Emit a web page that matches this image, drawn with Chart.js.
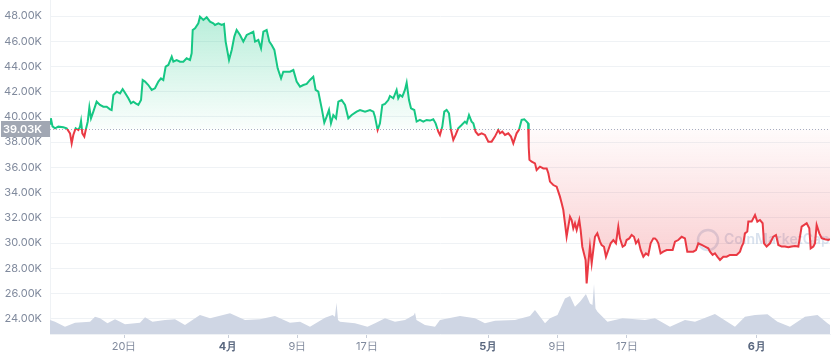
<!DOCTYPE html>
<html>
<head>
<meta charset="utf-8">
<script src="https://cdn.jsdelivr.net/npm/chart.js@4/dist/chart.umd.min.js"></script>
<style>
  html, body { margin: 0; padding: 0; background: #fff; }
  #wrap { position: relative; width: 831px; height: 358px; }
</style>
</head>
<body>
<div id="wrap"><canvas id="priceChart"></canvas></div>
<script>
// BTC price, Mar 11 - Jun 10 (days counted from Mar 1 00:00), values in K USD

const priceDays = [
  10.46, 10.56, 10.75, 11.04, 11.42, 12.00, 12.38, 12.77, 12.96, 13.15, 13.42, 13.73, 13.92, 14.04, 14.19, 14.42,
  14.58, 14.81, 15.00, 15.19, 15.46, 15.84, 16.23, 16.61, 17.00, 17.38, 17.57, 17.77, 18.15, 18.54, 18.84, 19.11,
  19.50, 19.80, 20.07, 20.34, 20.65, 20.96, 21.15, 21.42, 21.80, 22.19, 22.57, 22.96, 23.26, 23.53, 23.80, 24.11,
  24.50, 24.69, 25.07, 25.46, 25.84, 26.22, 26.61, 26.80, 26.92, 27.19, 27.57, 27.76, 28.15, 28.53, 28.92, 29.30,
  29.49, 29.88, 30.26, 30.53, 30.72, 31.11, 31.42, 31.72, 31.99, 32.38, 32.76, 33.15, 33.53, 33.91, 34.11, 34.49,
  34.80, 35.07, 35.45, 35.76, 36.03, 36.34, 36.72, 37.11, 37.37, 37.76, 38.14, 38.53, 38.91, 39.30, 39.68, 40.07,
  40.45, 40.83, 41.10, 41.41, 41.80, 42.10, 42.37, 42.64, 42.87, 43.14, 43.45, 43.72, 44.10, 44.49, 44.87, 45.26,
  45.83, 46.22, 46.80, 47.37, 47.76, 47.94, 48.25, 48.52, 48.79, 49.10, 49.48, 49.67, 50.06, 50.44, 50.63, 50.83,
  51.10, 51.40, 51.60, 51.87, 52.10, 52.48, 52.75, 53.13, 53.52, 53.90, 54.29, 54.67, 54.94, 55.25, 55.44, 55.71,
  55.94, 56.21, 56.48, 56.71, 56.98, 57.25, 57.55, 57.94, 58.32, 58.52, 58.79, 59.09, 59.29, 59.55, 59.86, 60.25,
  60.63, 61.02, 61.40, 61.78, 62.17, 62.36, 62.63, 62.94, 63.32, 63.63, 63.90, 64.28, 64.55, 64.86, 65.17, 65.44,
  65.60, 65.68, 65.76, 66.02, 66.40, 66.59, 66.98, 67.36, 67.75, 67.94, 68.13, 68.51, 68.90, 69.28, 69.48, 69.67,
  69.86, 70.05, 70.24, 70.44, 70.63, 70.82, 71.01, 71.21, 71.51, 71.67, 71.86, 72.05, 72.24, 72.36, 72.55, 72.74,
  72.94, 73.13, 73.32, 73.59, 73.90, 74.09, 74.36, 74.59, 74.86, 75.13, 75.44, 75.74, 76.01, 76.20, 76.51, 76.78,
  76.97, 77.28, 77.55, 77.82, 78.05, 78.32, 78.59, 78.90, 79.20, 79.47, 79.74, 80.05, 80.24, 80.43, 80.63, 80.89,
  81.20, 81.59, 81.97, 82.28, 82.55, 82.93, 83.32, 83.70, 83.97, 84.28, 84.66, 84.97, 85.24, 85.63, 86.01, 86.39,
  86.59, 86.89, 87.16, 87.43, 87.74, 88.12, 88.51, 88.89, 89.28, 89.66, 90.05, 90.24, 90.43, 90.62, 90.89, 91.01,
  91.39, 91.78, 92.05, 92.35, 92.66, 92.82, 93.12, 93.51, 93.89, 94.20, 94.47, 94.85, 95.24, 95.62, 96.01, 96.39,
  96.78, 97.16, 97.74, 98.04, 98.20, 98.51, 98.70, 98.89, 99.20, 99.47, 99.85, 100.24, 100.43
];

const priceK = [
  39.45, 39.90, 39.25, 39.10, 39.23, 39.18, 39.10, 38.70, 37.91, 38.57, 39.10, 38.96, 39.23, 39.68, 38.70, 38.44,
  38.96, 39.62, 40.76, 39.89, 40.42, 41.21, 40.95, 40.81, 40.81, 40.60, 40.55, 41.74, 42.00, 41.87, 42.21, 41.92,
  41.48, 41.08, 41.21, 41.08, 40.95, 41.34, 42.93, 42.80, 42.53, 42.14, 42.27, 42.80, 43.06, 42.93, 43.99, 44.12,
  44.78, 44.38, 44.51, 44.38, 44.38, 44.65, 44.51, 45.04, 46.89, 47.03, 47.42, 47.95, 47.69, 47.90, 47.55, 47.42,
  47.29, 47.42, 47.29, 47.37, 45.97, 44.52, 45.31, 46.37, 46.89, 46.50, 45.97, 46.50, 46.63, 46.76, 45.97, 46.10,
  45.44, 46.76, 46.89, 45.97, 45.70, 45.31, 43.85, 43.06, 43.59, 43.59, 43.59, 43.72, 42.80, 42.40, 42.53, 42.61,
  42.93, 43.19, 42.14, 42.00, 40.68, 39.55, 40.02, 40.55, 39.49, 40.15, 39.89, 41.21, 41.34, 40.95, 39.89, 40.15,
  40.42, 40.55, 40.42, 40.55, 40.42, 40.02, 38.97, 39.49, 40.95, 41.03, 41.34, 41.66, 41.48, 42.14, 41.48, 41.74,
  41.61, 42.14, 42.72, 41.34, 40.68, 40.55, 39.63, 39.76, 39.63, 39.76, 39.71, 39.81, 39.49, 38.83, 38.57, 39.23,
  40.42, 40.55, 40.29, 38.97, 38.17, 38.57, 39.10, 39.36, 39.63, 39.49, 40.15, 39.63, 39.49, 38.83, 38.57, 38.70,
  38.57, 38.04, 38.04, 38.44, 38.97, 38.70, 38.83, 38.57, 38.70, 38.44, 37.91, 38.70, 38.97, 39.76, 39.81, 39.63,
  39.50, 37.60, 36.60, 36.45, 36.32, 35.79, 36.06, 35.92, 35.92, 35.53, 34.87, 34.60, 34.47, 33.68, 33.15, 32.62,
  31.56, 30.50, 31.30, 32.09, 31.83, 31.17, 31.56, 31.03, 31.83, 31.03, 29.71, 29.18, 28.65, 26.80, 28.39, 29.71,
  28.39, 29.45, 30.50, 30.77, 30.11, 29.84, 29.71, 28.92, 29.45, 29.98, 30.24, 29.98, 31.30, 30.37, 29.71, 29.84,
  30.24, 30.37, 30.64, 30.50, 29.98, 30.24, 29.45, 28.92, 29.18, 29.05, 29.98, 30.37, 30.37, 30.24, 29.98, 29.18,
  29.32, 29.45, 29.45, 29.45, 30.11, 30.24, 30.50, 30.37, 29.32, 29.32, 29.32, 29.45, 29.98, 29.85, 29.72, 29.58,
  29.32, 29.06, 29.19, 28.92, 28.66, 28.92, 28.92, 29.06, 29.06, 29.06, 29.32, 29.72, 29.98, 30.77, 30.91, 31.70,
  31.70, 32.23, 31.70, 31.83, 31.57, 29.98, 29.72, 29.98, 30.51, 30.64, 29.85, 29.72, 29.72, 29.66, 29.72, 29.77,
  29.72, 31.30, 31.57, 31.17, 29.58, 29.72, 29.98, 31.43, 30.77, 30.38, 30.30, 30.24, 30.30
];

// 24h volume, billions USD
const volumeDays = [
  10.46, 11.04, 12.19, 13.35, 15.08, 15.65, 16.23, 17.09, 17.96, 18.54, 19.11, 20.84, 21.42, 22.28, 23.73, 24.88,
  26.03, 27.19, 27.76, 28.92, 31.22, 32.95, 34.68, 36.41, 38.14, 39.30, 40.45, 42.18, 43.05, 43.33, 43.51, 43.68,
  43.91, 45.64, 47.08, 47.95, 49.10, 50.25, 51.41, 52.44, 52.56, 52.73, 53.71, 54.87, 55.44, 57.75, 59.48, 60.63,
  61.79, 64.09, 65.82, 66.40, 67.56, 68.13, 69.00, 69.86, 70.44, 71.01, 71.59, 72.28, 72.74, 73.03, 73.21, 73.38,
  73.61, 74.76, 76.49, 79.09, 80.24, 81.97, 83.70, 84.86, 87.16, 89.47, 90.62, 91.78, 93.22, 94.37, 95.81, 97.54,
  98.99, 100.14, 100.43
];

const volumeB = [
  19.6, 17.3, 10.3, 15.9, 17.3, 24.3, 21.9, 14.9, 20.5, 17.3, 13.5, 15.9, 23.3, 17.3, 19.6, 20.5,
  12.6, 21.9, 26.6, 21.9, 28.9, 19.6, 20.5, 25.2, 15.9, 17.3, 10.3, 22.9, 26.6, 24.3, 43.9, 19.6,
  17.3, 14.9, 10.3, 14.9, 21.9, 17.3, 19.6, 26.6, 30.3, 19.6, 12.6, 10.3, 19.6, 25.2, 21.9, 14.9,
  18.5, 19.6, 25.2, 33.6, 14.9, 21.9, 26.6, 49.9, 53.2, 38.3, 45.3, 56.0, 42.9, 40.6, 70.0, 35.9,
  31.3, 17.3, 21.9, 19.6, 21.9, 10.3, 19.6, 17.3, 28.0, 10.3, 24.3, 26.6, 27.5, 17.3, 10.3, 24.3,
  26.6, 14.9, 12.6
];

const tickDays = [19, 31, 39, 47, 61, 69, 77, 92];
const tickLabels = ['20日', '4月', '9日', '17日', '5月', '9日', '17日', '6月'];
const yTicks = [24, 26, 28, 30, 32, 34, 36, 38, 40, 42, 44, 46, 48];
const baselineK = 39.03;

const GREEN = '22,199,132';
const RED = '234,57,67';

let lineGrad = null, fillGrad = null, gradKey = '';

function buildGradients(chart) {
  const area = chart.chartArea;
  if (!area || !chart.scales.y) return false;
  const key = area.top + ':' + area.bottom;
  if (key === gradKey) return true;
  const c = chart.ctx;
  const yb = chart.scales.y.getPixelForValue(baselineK);
  const f = Math.min(1, Math.max(0, (yb - area.top) / (area.bottom - area.top)));

  lineGrad = c.createLinearGradient(0, area.top, 0, area.bottom);
  lineGrad.addColorStop(0, `rgb(${GREEN})`);
  lineGrad.addColorStop(f, `rgb(${GREEN})`);
  lineGrad.addColorStop(f, `rgb(${RED})`);
  lineGrad.addColorStop(1, `rgb(${RED})`);

  fillGrad = c.createLinearGradient(0, area.top, 0, area.bottom);
  fillGrad.addColorStop(0, `rgba(${GREEN},0.34)`);
  fillGrad.addColorStop(f, `rgba(${GREEN},0.02)`);
  fillGrad.addColorStop(f, `rgba(${RED},0.02)`);
  fillGrad.addColorStop(1, `rgba(${RED},0.36)`);
  gradKey = key;
  return true;
}

const baselinePlugin = {
  id: 'baseline',
  beforeDatasetsDraw(chart) {
    const { ctx, chartArea: a, scales } = chart;
    const yb = scales.y.getPixelForValue(baselineK);

    // watermark
    ctx.save();
    ctx.strokeStyle = 'rgba(180,198,222,0.5)';
    ctx.fillStyle = 'rgba(180,198,222,0.5)';
    ctx.lineWidth = 2.5;
    ctx.beginPath();
    ctx.arc(a.right - 122, 240, 10, 0, Math.PI * 2);
    ctx.stroke();
    ctx.font = '600 14px Inter';
    ctx.textBaseline = 'middle';
    ctx.fillText('CoinMarketCap', a.right - 106, 240);
    ctx.restore();

    // dotted baseline
    ctx.save();
    ctx.strokeStyle = '#a6b0c3';
    ctx.lineWidth = 1;
    ctx.setLineDash([1, 2]);
    ctx.beginPath();
    ctx.moveTo(a.left, Math.round(yb) + 0.5);
    ctx.lineTo(a.right, Math.round(yb) + 0.5);
    ctx.stroke();
    ctx.restore();
  },
  afterDraw(chart) {
    const { ctx, chartArea: a, scales } = chart;
    const yb = Math.round(scales.y.getPixelForValue(baselineK));
    ctx.save();
    ctx.fillStyle = '#a1a7b3';
    ctx.fillRect(1, yb - 8, a.left - 1, 16);
    ctx.fillStyle = '#fff';
    ctx.font = '600 11px Inter';
    ctx.textAlign = 'right';
    ctx.textBaseline = 'middle';
    ctx.fillText(baselineK.toFixed(2) + 'K', a.left - 8, yb + 0.5);
    ctx.restore();
  }
};

const isMonth = ctx => {
  if (!ctx || !ctx.tick) return false;
  const i = tickDays.indexOf(ctx.tick.value);
  return i >= 0 && tickLabels[i].endsWith('月');
};

new Chart(document.getElementById('priceChart'), {
  type: 'line',
  data: {
    datasets: [
      {
        label: 'Price',
        data: priceDays.map((d, i) => ({ x: d, y: priceK[i] })),
        yAxisID: 'y',
        borderColor: ctx => buildGradients(ctx.chart) ? lineGrad : `rgb(${GREEN})`,
        backgroundColor: ctx => buildGradients(ctx.chart) ? fillGrad : 'transparent',
        borderWidth: 2,
        pointRadius: 0,
        tension: 0,
        fill: { target: { value: baselineK } },
        order: 1
      },
      {
        label: 'Volume',
        data: volumeDays.map((d, i) => ({ x: d, y: volumeB[i] })),
        yAxisID: 'yVol',
        borderWidth: 0,
        borderColor: 'transparent',
        backgroundColor: '#cfd6e4',
        pointRadius: 0,
        tension: 0,
        fill: 'origin',
        order: 2
      }
    ]
  },
  options: {
    responsive: true,
    maintainAspectRatio: false,
    animation: false,
    layout: { padding: { top: 0, right: 1, left: 0, bottom: 0 } },
    plugins: { legend: { display: false }, tooltip: { enabled: false } },
    scales: {
      x: {
        type: 'linear',
        min: priceDays[0],
        max: priceDays[priceDays.length - 1],
        afterBuildTicks: s => { s.ticks = tickDays.map(v => ({ value: v })); },
        afterFit: s => { s.height = 24; s.paddingLeft = 0; s.paddingRight = 0; },
        ticks: {
          autoSkip: false,
          maxRotation: 0,
          padding: 2,
          callback: v => tickLabels[tickDays.indexOf(v)],
          color: ctx => isMonth(ctx) ? '#58667e' : '#808a9d',
          font: ctx => ({ family: 'Inter', size: 11, weight: isMonth(ctx) ? 'bold' : 'normal' })
        },
        grid: { drawOnChartArea: false, drawTicks: true, tickLength: 4, color: '#c8ced9' },
        border: { color: '#eff2f5' }
      },
      y: {
        position: 'left',
        min: 22.79,
        max: 49.27,
        afterBuildTicks: s => { s.ticks = yTicks.map(v => ({ value: v })); },
        afterFit: s => { s.width = 50; s.paddingTop = 0; s.paddingBottom = 0; },
        ticks: {
          padding: 8,
          color: '#808a9d',
          font: { family: 'Inter', size: 11 },
          callback: v => v.toFixed(2) + 'K'
        },
        grid: { color: '#eff2f5', drawTicks: false },
        border: { color: '#eff2f5' }
      },
      yVol: {
        display: false,
        min: 0,
        max: 468
      }
    }
  },
  plugins: [baselinePlugin]
});
</script>
</body>
</html>
